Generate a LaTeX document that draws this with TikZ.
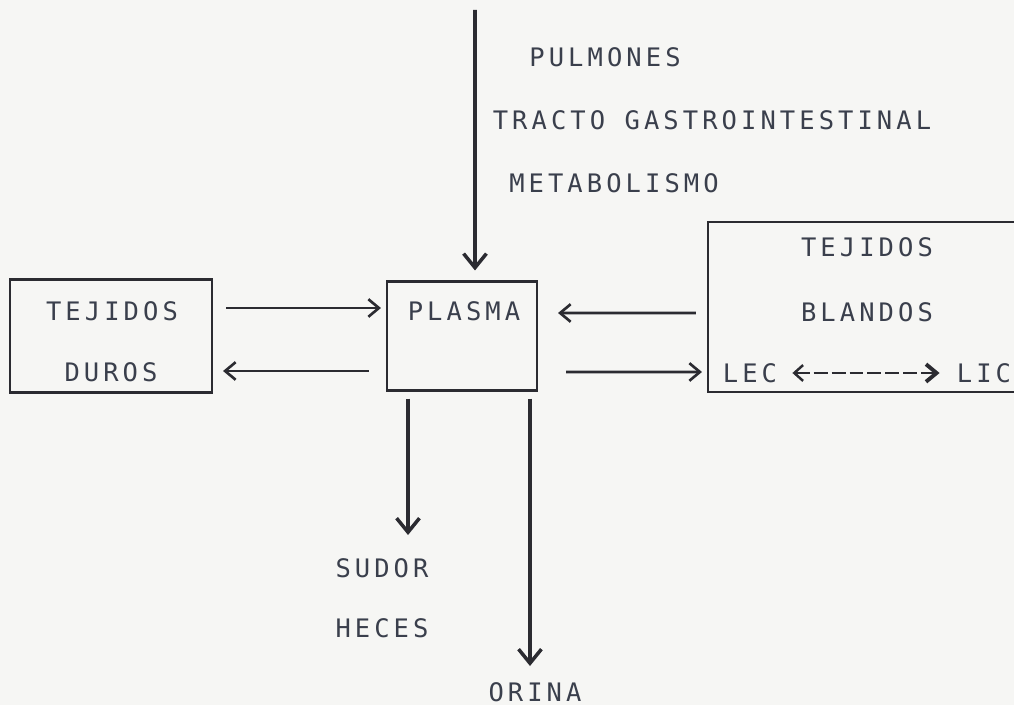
\documentclass[tikz,border=0pt]{standalone}
\usepackage{fontspec}
\newfontfamily\maquina[LetterSpace=16]{DejaVu Sans Mono}
\usetikzlibrary{arrows.meta}
\definecolor{tinta}{HTML}{3A3F4C}
\definecolor{linea}{HTML}{2B2B31}
\definecolor{fondo}{HTML}{F6F6F4}

\begin{document}
\begin{tikzpicture}[x=0.02cm,y=-0.02cm,
    caja/.style={draw=linea,line width=1.2pt,inner sep=0pt},
    texto/.style={text=tinta,font=\maquina\fontsize{14.5}{16}\selectfont,inner sep=0pt},
    flecha/.style={draw=linea,line width=1.5pt,-{Straight Barb[length=6pt,width=10pt]}},
    flechav/.style={draw=linea,line width=2pt,-{Straight Barb[length=8pt,width=13pt]}}]
    % fondo
    \fill[fondo] (0,0) rectangle (1014,705);
    \useasboundingbox (0,0) rectangle (1014,705);
    
    % cajas
    \node[caja,minimum width=4.04cm,minimum height=2.26cm] (duros) at (111,336) {};
    \node[caja,minimum width=3.0cm,minimum height=2.18cm] (plasma) at (462,336) {};
    \node[caja,minimum width=6.44cm,minimum height=3.4cm] (blandos) at (869,307) {};
    
    % textos de las cajas
    \node[texto] (durosA) at (112,311) {TEJIDOS};
    \node[texto] (durosB) at (111,372) {DUROS};
    \node[texto] (plasmaA) at (464,311) {PLASMA};
    \node[texto] (blandosA) at (867,247) {TEJIDOS};
    \node[texto] (blandosB) at (867,312) {BLANDOS};
    \node[texto] (lec) at (750,373) {LEC};
    \node[texto] (lic) at (984,373) {LIC};
    
    % entradas
    \node[texto] (pulmones) at (605,57) {PULMONES};
    \node[texto] (tracto) at (712,120) {TRACTO GASTROINTESTINAL};
    \node[texto] (metab) at (614,183) {METABOLISMO};
    \coordinate (entrada) at (475,10);
    
    % salidas
    \node[texto] (sudor) at (382,568) {SUDOR};
    \node[texto] (heces) at (382,628) {HECES};
    \node[texto] (orina) at (535,692) {ORINA};
    
    % flecha de entrada al plasma
    \draw[flechav,shorten >=0.2cm] (entrada) -- ([xshift=0.26cm]plasma.north);
    
    % intercambio con tejidos duros
    \draw[flecha,shorten <=0.26cm,shorten >=0.1cm] ([yshift=0.56cm]duros.east) -- ([yshift=0.56cm]plasma.west);
    \draw[flecha,shorten <=0.34cm,shorten >=0.2cm] ([yshift=-0.7cm]plasma.west) -- ([yshift=-0.7cm]duros.east);
    
    % intercambio con tejidos blandos
    \draw[flecha,shorten <=0.22cm,shorten >=0.4cm] ([yshift=-0.12cm]blandos.west) -- ([yshift=0.46cm]plasma.east);
    \draw[flecha,shorten <=0.56cm,shorten >=0.1cm] ([yshift=-0.72cm]plasma.east) -- ([yshift=-1.3cm]blandos.west);
    
    % LEC - LIC
    \draw[draw=linea,line width=1.4pt,dash pattern=on 0.28cm off 0.08cm,
        {Straight Barb[length=5pt,width=9pt]}-{Straight Barb[length=6pt,width=10pt,line width=2.2pt]},
        shorten <=0.3cm,shorten >=0.34cm] (lec.east) -- (lic.west);
    
    % salidas del plasma
    \draw[flechav,shorten <=0.14cm,shorten >=0.46cm] ([xshift=-1.08cm]plasma.south) -- ([xshift=-1.08cm]plasma.south |- sudor.north);
    \draw[flechav,shorten <=0.14cm,shorten >=0.32cm] ([xshift=1.36cm]plasma.south) -- ([xshift=1.36cm]plasma.south |- orina.north);
\end{tikzpicture}
\end{document}
